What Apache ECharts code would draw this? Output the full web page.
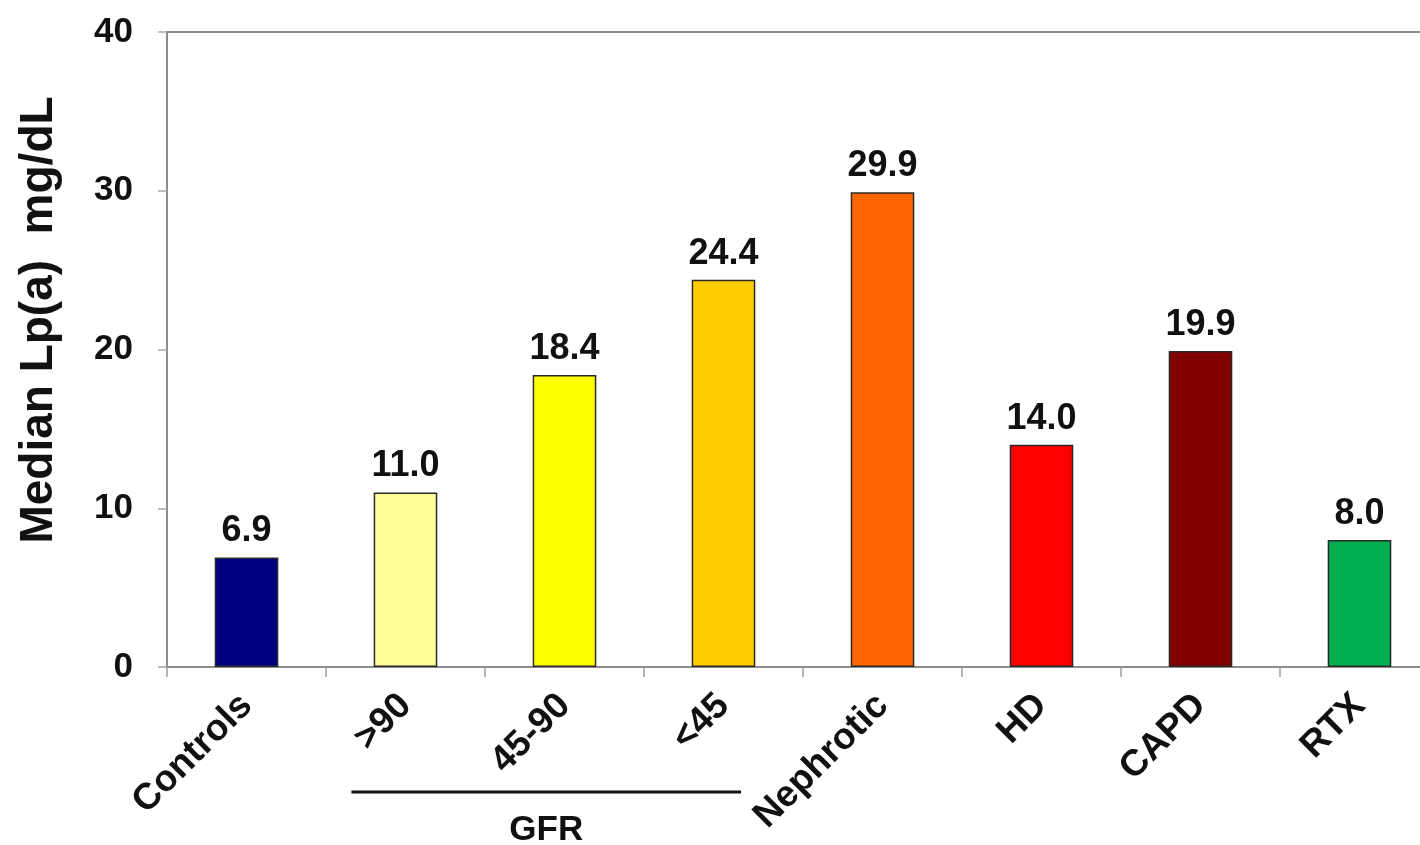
<!DOCTYPE html>
<html>
<head>
<meta charset="utf-8">
<script src="https://cdn.jsdelivr.net/npm/echarts@6/dist/echarts.min.js"></script>
<style>
  html, body { margin: 0; padding: 0; background: #fff; }
  #chart { width: 1420px; height: 845px; }
</style>
</head>
<body>
<div id="chart"></div>
<script>
// Median Lp(a) by patient group
const categories = ['Controls', '>90', '45-90', '<45', 'Nephrotic', 'HD', 'CAPD', 'RTX'];
const medianLpa = [6.9, 11.0, 18.4, 24.4, 29.9, 14.0, 19.9, 8.0];
const barColors = ['#000080', '#FFFF99', '#FFFF00', '#FFCC00', '#FF6600', '#FF0000', '#800000', '#00B050'];
const yTicks = [0, 10, 20, 30, 40];
const yTitle = 'Median Lp(a)  mg/dL';
const gfrGroup = ['>90', '<45']; // first and last category under the GFR bracket
const gfrLabel = 'GFR';

const FONT = '"Liberation Sans", Arial, sans-serif';
const chart = echarts.init(document.getElementById('chart'), null, { renderer: 'canvas' });

const option = {
  backgroundColor: '#fff',
  animation: false,
  grid: {
    left: 167, top: 32, width: 1272, bottom: 178,
    outerBoundsMode: 'none',
    containLabel: false,
    show: true, borderColor: '#8c8c8c', borderWidth: 2, backgroundColor: 'transparent'
  },
  xAxis: {
    type: 'category',
    data: categories,
    axisLine: { lineStyle: { color: '#8c8c8c', width: 2 } },
    axisTick: { show: true, length: 10, lineStyle: { color: '#a0a0a0', width: 1.5 } },
    axisLabel: {
      rotate: 45, margin: 33, interval: 0,
      fontFamily: FONT, fontWeight: 'bold', fontSize: 37, color: '#111'
    }
  },
  yAxis: {
    type: 'value',
    min: yTicks[0], max: yTicks[yTicks.length - 1], interval: 10,
    axisLine: { show: true, lineStyle: { color: '#8c8c8c', width: 2 } },
    axisTick: { show: true, length: 9, lineStyle: { color: '#a8a8a8', width: 1.5 } },
    splitLine: { show: false },
    axisLabel: {
      margin: 34,
      fontFamily: FONT, fontWeight: 'bold', fontSize: 35, color: '#111'
    }
  },
  series: [{
    type: 'bar',
    barWidth: '40%',
    data: medianLpa.map((v, i) => ({
      value: v,
      itemStyle: { color: barColors[i], borderColor: '#2a2a2a', borderWidth: 1.5 }
    })),
    label: {
      show: true, position: 'top', distance: 8,
      formatter: p => p.value.toFixed(1),
      fontFamily: FONT, fontWeight: 'bold', fontSize: 36, color: '#111'
    }
  }]
};
chart.setOption(option);

// Y-axis title and the GFR bracket under the three GFR categories
function drawAnnotations() {
  const step = chart.convertToPixel({ xAxisIndex: 0 }, categories[1]) -
               chart.convertToPixel({ xAxisIndex: 0 }, categories[0]);
  const xStart = chart.convertToPixel({ xAxisIndex: 0 }, gfrGroup[0]) - 0.34 * step;
  const xEnd = chart.convertToPixel({ xAxisIndex: 0 }, gfrGroup[1]) + 0.11 * step;
  const yZero = chart.convertToPixel({ yAxisIndex: 0 }, 0);
  const yLine = yZero + 125;
  chart.setOption({
    graphic: [
      {
        type: 'text',
        x: 39, y: 320, rotation: Math.PI / 2,
        style: {
          text: yTitle, align: 'center', verticalAlign: 'middle',
          font: 'bold 46px ' + FONT, fill: '#111'
        }
      },
      {
        type: 'line',
        shape: { x1: xStart, y1: yLine, x2: xEnd, y2: yLine },
        style: { stroke: '#111', lineWidth: 3 }
      },
      {
        type: 'text',
        x: (xStart + xEnd) / 2, y: yLine + 38,
        style: {
          text: gfrLabel, align: 'center', verticalAlign: 'middle',
          font: 'bold 35px ' + FONT, fill: '#111'
        }
      }
    ]
  });
}
drawAnnotations();
</script>
</body>
</html>
